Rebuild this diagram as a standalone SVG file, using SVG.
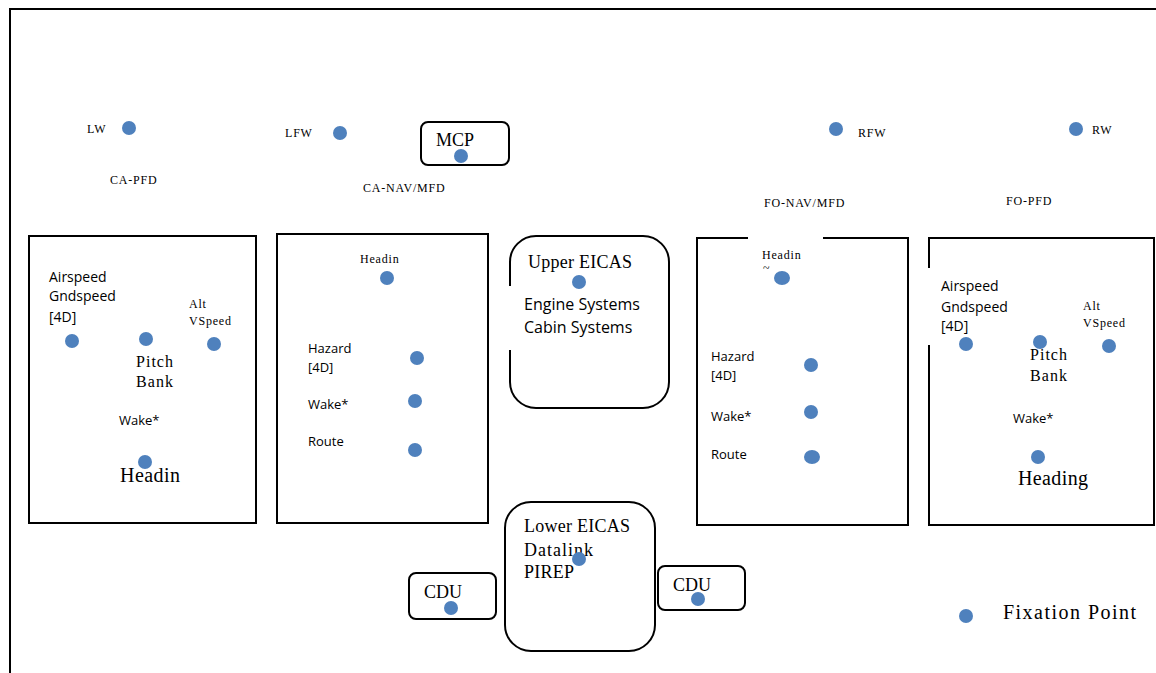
<svg xmlns="http://www.w3.org/2000/svg" width="1156" height="673" viewBox="0 0 1156 673">
<style>
.dot{fill:#4F81BD}
.box{fill:#fff;stroke:#000;stroke-width:2}
.sr{font-family:"Liberation Serif","DejaVu Serif",serif;fill:#000}
.ss{font-family:"Open Sans","Liberation Sans",sans-serif;fill:#000}
.s11{font-size:12px;letter-spacing:0.8px}
.s13{font-size:13px}
.s14{font-size:14px}
.s16{font-size:16px}
.s17{font-size:18px}
.s19{font-size:20px}
</style>
<rect width="1156" height="673" fill="#fff"/>
<g id="frame">
<path d="M10,673 V9 H1156" fill="none" stroke="#000" stroke-width="2"/>
</g>
<g id="top-labels">
<text class="sr s11" x="87" y="133">LW</text>
<circle class="dot" cx="129" cy="128" r="7"/>
<text class="sr s11" x="110" y="184">CA-PFD</text>
<text class="sr s11" x="285" y="137">LFW</text>
<circle class="dot" cx="340" cy="133" r="7"/>
<text class="sr s11" x="363" y="192">CA-NAV/MFD</text>
<circle class="dot" cx="836" cy="129" r="7"/>
<text class="sr s11" x="858" y="137">RFW</text>
<circle class="dot" cx="1076" cy="129" r="7"/>
<text class="sr s11" x="1092" y="134">RW</text>
<text class="sr s11" x="764" y="207">FO-NAV/MFD</text>
<text class="sr s11" x="1006" y="205">FO-PFD</text>
</g>
<g id="mcp">
<rect class="box" x="421" y="122" width="88" height="43" rx="7"/>
<text class="sr s17" x="436" y="146">MCP</text>
<circle class="dot" cx="461" cy="156" r="7"/>
</g>
<g id="ca-pfd">
<rect class="box" x="29" y="236" width="227" height="287"/>
<text class="ss s14" x="49" y="282">Airspeed</text>
<text class="ss s14" x="49" y="301">Gndspeed</text>
<text class="ss s14" x="49" y="322">[4D]</text>
<text class="sr s11" x="189" y="308">Alt</text>
<text class="sr s11" x="189" y="325">VSpeed</text>
<circle class="dot" cx="72" cy="341" r="7"/>
<circle class="dot" cx="146" cy="339" r="7"/>
<circle class="dot" cx="214" cy="344" r="7"/>
<text class="sr s16" x="136" y="367" textLength="37" lengthAdjust="spacing">Pitch</text>
<text class="sr s16" x="136" y="387" textLength="37" lengthAdjust="spacing">Bank</text>
<text class="ss s13" x="119" y="425">Wake*</text>
<circle class="dot" cx="145" cy="462" r="7"/>
<text class="sr s19" x="120" y="482" textLength="60" lengthAdjust="spacing">Headin</text>
</g>
<g id="ca-nav">
<rect class="box" x="277" y="234" width="211" height="289"/>
<text class="sr s11" x="360" y="263">Headin</text>
<circle class="dot" cx="387" cy="278" r="7"/>
<text class="ss s13" x="308" y="353">Hazard</text>
<text class="ss s13" x="308" y="372">[4D]</text>
<circle class="dot" cx="417" cy="358" r="7"/>
<text class="ss s13" x="308" y="409">Wake*</text>
<circle class="dot" cx="415" cy="401" r="7"/>
<text class="ss s13" x="308" y="446">Route</text>
<circle class="dot" cx="415" cy="450" r="7"/>
</g>
<g id="upper-eicas">
<rect class="box" x="510" y="236" width="159" height="172" rx="26"/>
<rect x="505" y="286" width="10" height="64" fill="#fff"/>
<text class="sr s17" x="528" y="268" textLength="104" lengthAdjust="spacing">Upper EICAS</text>
<circle class="dot" cx="579" cy="282" r="7"/>
<text class="ss s16" x="524" y="310">Engine Systems</text>
<text class="ss s16" x="524" y="333">Cabin Systems</text>
</g>
<g id="fo-nav">
<rect class="box" x="697" y="238" width="211" height="287"/>
<rect x="748" y="233" width="75" height="10" fill="#fff"/>
<text class="sr s11" x="762" y="259">Headin</text>
<text class="sr s11" x="763" y="272">~</text>
<ellipse class="dot" cx="782" cy="278" rx="8" ry="7"/>
<text class="ss s13" x="711" y="361">Hazard</text>
<text class="ss s13" x="711" y="380">[4D]</text>
<circle class="dot" cx="811" cy="365" r="7"/>
<text class="ss s13" x="711" y="421">Wake*</text>
<circle class="dot" cx="811" cy="412" r="7"/>
<text class="ss s13" x="711" y="459">Route</text>
<ellipse class="dot" cx="812" cy="457" rx="8" ry="7"/>
</g>
<g id="fo-pfd">
<rect class="box" x="929" y="238" width="225" height="287"/>
<rect x="924" y="268" width="10" height="77" fill="#fff"/>
<text class="ss s14" x="941" y="291">Airspeed</text>
<text class="ss s14" x="941" y="312">Gndspeed</text>
<text class="ss s14" x="941" y="331">[4D]</text>
<text class="sr s11" x="1083" y="310">Alt</text>
<text class="sr s11" x="1083" y="327">VSpeed</text>
<circle class="dot" cx="966" cy="344" r="7"/>
<circle class="dot" cx="1040" cy="342" r="7"/>
<circle class="dot" cx="1109" cy="346" r="7"/>
<text class="sr s16" x="1030" y="360" textLength="37" lengthAdjust="spacing">Pitch</text>
<text class="sr s16" x="1030" y="381" textLength="37" lengthAdjust="spacing">Bank</text>
<text class="ss s13" x="1013" y="423">Wake*</text>
<circle class="dot" cx="1038" cy="457" r="7"/>
<text class="sr s19" x="1018" y="485" textLength="70" lengthAdjust="spacing">Heading</text>
</g>
<g id="lower-eicas">
<rect class="box" x="505" y="502" width="150" height="149" rx="26"/>
<text class="sr s17" x="524" y="532" textLength="106" lengthAdjust="spacing">Lower EICAS</text>
<text class="sr s17" x="524" y="556" textLength="69" lengthAdjust="spacing">Datalink</text>
<text class="sr s17" x="524" y="578" textLength="50" lengthAdjust="spacing">PIREP</text>
<circle class="dot" cx="579" cy="559" r="7"/>
</g>
<g id="cdu-left">
<rect class="box" x="409" y="573" width="87" height="46" rx="7"/>
<text class="sr s17" x="424" y="598">CDU</text>
<circle class="dot" cx="451" cy="608" r="7"/>
</g>
<g id="cdu-right">
<rect class="box" x="658" y="566" width="87" height="44" rx="7"/>
<text class="sr s17" x="673" y="591">CDU</text>
<circle class="dot" cx="698" cy="599" r="7"/>
</g>
<g id="legend">
<circle class="dot" cx="966" cy="616" r="7"/>
<text class="sr s19" x="1003" y="619" textLength="133" lengthAdjust="spacing">Fixation Point</text>
</g>
<g id="connectors"/>
</svg>
